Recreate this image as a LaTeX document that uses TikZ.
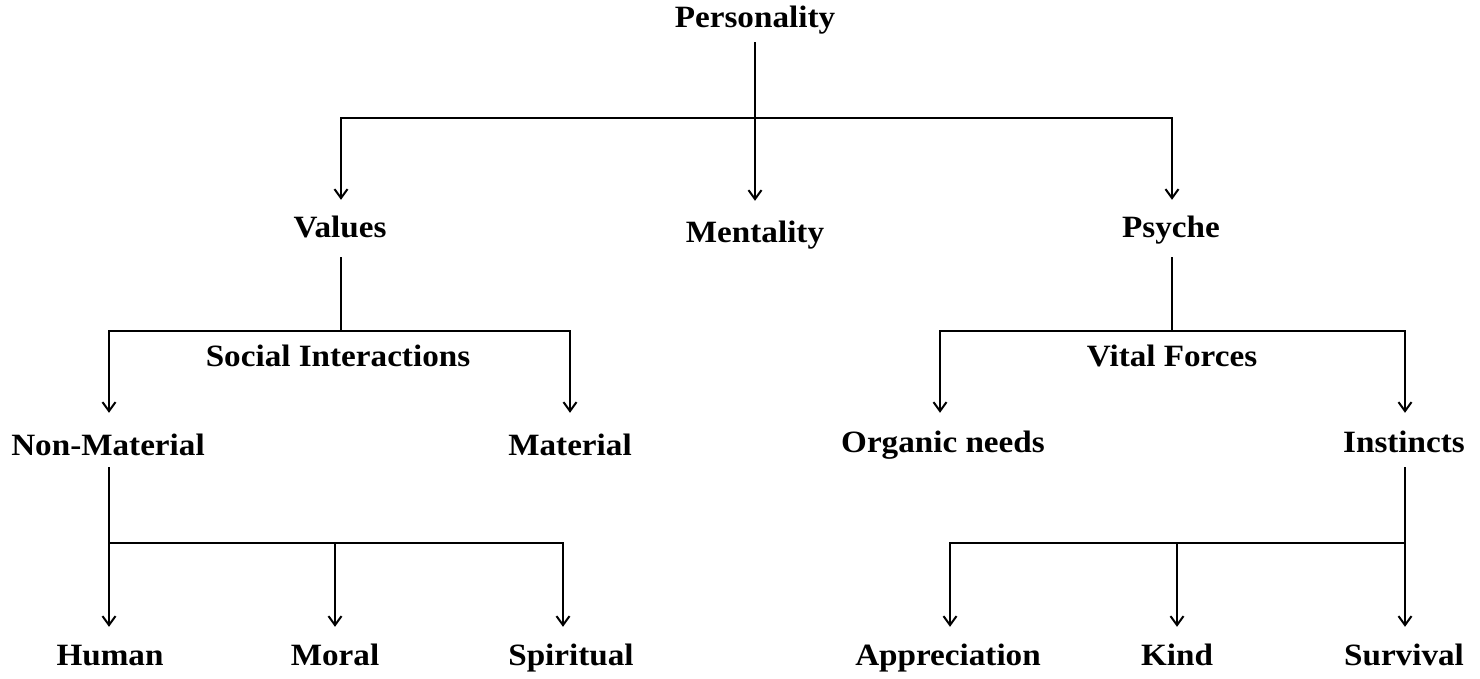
\documentclass[tikz,border=0pt]{standalone}
\usepackage{fontspec}
\setmainfont{Liberation Serif}[FakeStretch=1.07]
\usetikzlibrary{arrows.meta}
\begin{document}
\begin{tikzpicture}[x=1pt,y=-1pt,
  lbl/.style={anchor=base,inner sep=0pt,text height=21pt,text depth=0pt,
              font=\bfseries\fontsize{31}{36}\selectfont},
  conn/.style={line width=2pt,line cap=rect},
  arr/.style={line width=2pt,-{Straight Barb[length=9pt,width=13pt,line width=2pt]}}]
\useasboundingbox (0,0) rectangle (1480,679);
% level 1
\node[lbl] (P) at (755,28) {Personality};
% level 2
\node[lbl] (V) at (340,237) {Values};
\node[lbl] (M) at (755,242) {Mentality};
\node[lbl] (Ps) at (1171,237) {Psyche};
% sub labels
\node[lbl] (SI) at (338,366) {Social Interactions};
\node[lbl] (VF) at (1172,366) {Vital Forces};
% level 3
\node[lbl] (NM) at (108,455) {Non-Material};
\node[lbl] (Ma) at (570,455) {Material};
\node[lbl] (ON) at (943,452) {Organic needs};
\node[lbl] (In) at (1404,452) {Instincts};
% level 4
\node[lbl] (Hu) at (110,665) {Human};
\node[lbl] (Mo) at (335,665) {Moral};
\node[lbl] (Sp) at (571,665) {Spiritual};
\node[lbl] (Ap) at (948,665) {Appreciation};
\node[lbl] (Ki) at (1177,665) {Kind};
\node[lbl] (Su) at (1404,665) {Survival};
% junction coordinates (bar ends)
\coordinate (b1l) at (341,118);
\coordinate (b1r) at (1172,118);
\coordinate (b2m) at (341,331);
\coordinate (b2l) at (109,331);
\coordinate (b2r) at (570,331);
\coordinate (b3m) at (1172,331);
\coordinate (b3l) at (940,331);
\coordinate (b3r) at (1405,331);
\coordinate (b4l) at (109,543);
\coordinate (b4m) at (335,543);
\coordinate (b4r) at (563,543);
\coordinate (b5l) at (950,543);
\coordinate (b5m) at (1177,543);
\coordinate (b5r) at (1405,543);
% Personality
\draw[arr,shorten <=14pt,shorten >=20pt] (P.south) -- (M.north);
\draw[conn] (b1l) -- (b1r);
\draw[arr,shorten >=16pt] (b1l) -- (b1l |- V.north);
\draw[arr,shorten >=16pt] (b1r) -- (b1r |- Ps.north);
% Values
\draw[conn,shorten <=21pt] (b2m |- V.south) -- (b2m);
\draw[conn] (b2l) -- (b2r);
\draw[arr,shorten >=21pt] (b2l) -- (b2l |- NM.north);
\draw[arr,shorten >=21pt] (b2r) -- (b2r |- Ma.north);
% Psyche
\draw[conn,shorten <=21pt] (b3m |- Ps.south) -- (b3m);
\draw[conn] (b3l) -- (b3r);
\draw[arr,shorten >=18pt] (b3l) -- (b3l |- ON.north);
\draw[arr,shorten >=18pt] (b3r) -- (b3r |- In.north);
% Non-Material
\draw[conn,shorten <=13pt] (b4l |- NM.south) -- (b4l);
\draw[conn] (b4l) -- (b4r);
\draw[arr,shorten >=17pt] (b4l) -- (b4l |- Hu.north);
\draw[arr,shorten >=17pt] (b4m) -- (b4m |- Mo.north);
\draw[arr,shorten >=17pt] (b4r) -- (b4r |- Sp.north);
% Instincts
\draw[conn,shorten <=16pt] (b5r |- In.south) -- (b5r);
\draw[conn] (b5l) -- (b5r);
\draw[arr,shorten >=17pt] (b5l) -- (b5l |- Ap.north);
\draw[arr,shorten >=17pt] (b5m) -- (b5m |- Ki.north);
\draw[arr,shorten >=17pt] (b5r) -- (b5r |- Su.north);
\end{tikzpicture}
\end{document}
